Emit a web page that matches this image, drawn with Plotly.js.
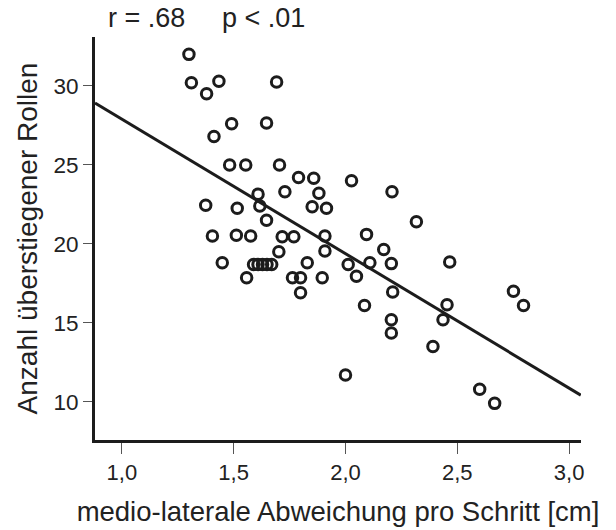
<!DOCTYPE html>
<html>
<head>
<meta charset="utf-8">
<script src="https://cdn.plot.ly/plotly-3.0.1.min.js"></script>
<style>html,body{margin:0;padding:0;background:#fff;}#chart{width:616px;height:530px;}</style>
</head>
<body>
<div id="chart"></div>
<script>
// measured points: medio-lateral deviation per step [cm] vs. number of rolls stepped over
var deviationCm = [1.300, 1.311, 1.434, 1.379, 1.692, 1.491, 1.647, 1.412, 1.482, 1.554,
  1.705, 1.790, 1.858, 2.027, 2.208, 1.881, 1.729, 1.851, 1.915, 1.609,
  1.617, 1.375, 1.516, 1.647, 1.405, 1.512, 1.576, 1.717, 1.769, 1.702,
  1.449, 1.589, 1.609, 1.629, 1.649, 1.670, 1.558, 1.763, 1.799, 1.799,
  2.317, 1.908, 2.094, 2.171, 1.908, 1.829, 2.012, 2.109, 2.205, 1.896,
  2.049, 2.085, 2.211, 2.205, 2.205, 2.000, 2.466, 2.751, 2.796, 2.454,
  2.436, 2.391, 2.600, 2.667];
var rollsCount = [32.0, 30.2, 30.3, 29.5, 30.25, 27.6, 27.65, 26.8, 25.0, 25.0,
  25.0, 24.2, 24.15, 24.0, 23.3, 23.2, 23.3, 22.35, 22.25, 23.15,
  22.4, 22.45, 22.25, 21.5, 20.5, 20.55, 20.5, 20.45, 20.45, 19.5,
  18.8, 18.7, 18.7, 18.7, 18.7, 18.7, 17.85, 17.85, 17.85, 16.9,
  21.4, 20.5, 20.6, 19.65, 19.55, 18.8, 18.7, 18.8, 18.75, 17.85,
  17.95, 16.1, 16.95, 15.2, 14.35, 11.7, 18.85, 17.0, 16.1, 16.15,
  15.2, 13.5, 10.8, 9.9];
// regression line end points
var fitX = [0.88, 3.052];
var fitY = [28.92, 10.42];
// axis ticks
var xTickVals = [1.0, 1.5, 2.0, 2.5, 3.0];
var xTickText = ["1,0", "1,5", "2,0", "2,5", "3,0"];
var yTickVals = [10, 15, 20, 25, 30];
var statR = "r = .68";
var statP = "p < .01";

var ink = "#1c1c1c";
var traces = [
  {x: fitX, y: fitY, type: "scatter", mode: "lines",
   line: {color: ink, width: 3}, hoverinfo: "skip", cliponaxis: true},
  {x: deviationCm, y: rollsCount, type: "scatter", mode: "markers",
   marker: {symbol: "circle-open", size: 10.5, color: ink, line: {color: ink, width: 3}},
   cliponaxis: false}
];
var layout = {
  width: 616, height: 530,
  margin: {l: 95, r: 35, t: 37, b: 90, pad: 0},
  paper_bgcolor: "#fff", plot_bgcolor: "#fff",
  showlegend: false,
  font: {family: "Liberation Sans, Arial, sans-serif", color: "#222", size: 20},
  xaxis: {
    range: [0.88, 3.053], tickvals: xTickVals, ticktext: xTickText,
    ticks: "outside", ticklen: 11, tickwidth: 1, tickcolor: "#555",
    showline: true, linewidth: 3, linecolor: ink, showgrid: false, zeroline: false,
    tickfont: {size: 22, color: "#222"},
    title: {text: "medio-laterale Abweichung pro Schritt [cm]", font: {size: 27.5, color: "#222"}, standoff: 18}
  },
  yaxis: {
    range: [7.58, 33.1], tickvals: yTickVals,
    ticks: "outside", ticklen: 9, tickwidth: 1, tickcolor: "#555",
    showline: true, linewidth: 3, linecolor: ink, showgrid: false, zeroline: false,
    tickfont: {size: 22.5, color: "#222"},
    title: {text: "Anzahl überstiegener Rollen", font: {size: 28, color: "#222"}, standoff: 8}
  },
  annotations: [
    {text: statR, xref: "paper", yref: "paper", x: 0.022, y: 1.048, xanchor: "left", yanchor: "middle",
     showarrow: false, font: {size: 27, color: "#222"}},
    {text: statP, xref: "paper", yref: "paper", x: 0.257, y: 1.048, xanchor: "left", yanchor: "middle",
     showarrow: false, font: {size: 27, color: "#222"}}
  ]
};
Plotly.newPlot("chart", traces, layout, {staticPlot: true, displayModeBar: false});
</script>
</body>
</html>
